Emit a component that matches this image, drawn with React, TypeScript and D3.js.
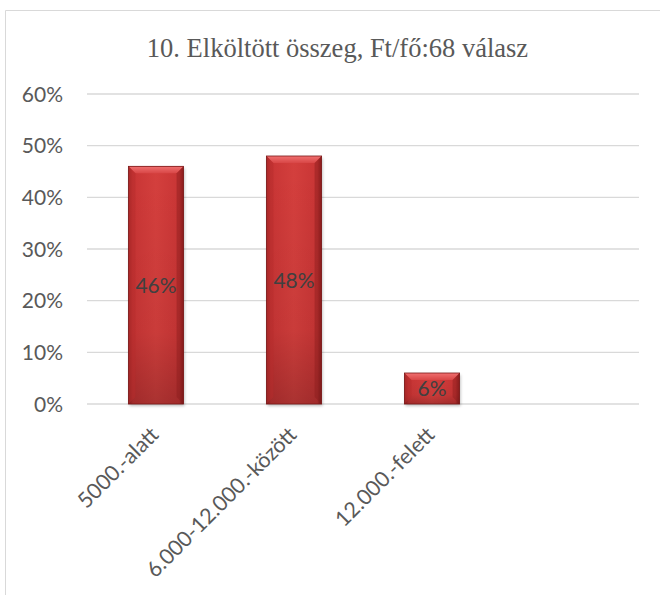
import * as d3 from "d3";

const categories = ["5000.-alatt", "6.000-12.000.-között", "12.000.-felett", ""];
const shares = [0.46, 0.48, 0.06, null];
const yTickValues = [0, 0.1, 0.2, 0.3, 0.4, 0.5, 0.6];
const title = "10. Elköltött összeg, Ft/fő:68 válasz";

const W = 660;
const H = 595;
const plot = { left: 87, right: 639, top: 94, bottom: 404 };
const sansFont = "Lato, 'Open Sans', sans-serif";
const gray = "#595959";

export default function App() {
  const x = d3
    .scaleBand<string>()
    .domain(categories.map((c, i) => `${i}`))
    .range([plot.left, plot.right])
    .paddingInner(0.6)
    .paddingOuter(0.3);
  const y = d3.scaleLinear().domain([0, 0.6]).range([plot.bottom, plot.top]);
  const fmt = d3.format(".0%");
  const bw = x.bandwidth();
  const bevel = 7;

  return (
    <svg
      width={W}
      height={H}
      style={{ position: "absolute", left: 0, top: 0, background: "#fff" }}
    >
      <defs>
        <linearGradient id="barH" x1="0" x2="1" y1="0" y2="0">
          <stop offset="0" stopColor="#9e2424" />
          <stop offset="0.08" stopColor="#c93535" />
          <stop offset="0.5" stopColor="#d43f3d" />
          <stop offset="0.92" stopColor="#c93535" />
          <stop offset="1" stopColor="#8a1c1c" />
        </linearGradient>
        <linearGradient id="barV" x1="0" x2="0" y1="0" y2="1">
          <stop offset="0" stopColor="#000" stopOpacity="0" />
          <stop offset="0.7" stopColor="#000" stopOpacity="0.05" />
          <stop offset="1" stopColor="#000" stopOpacity="0.2" />
        </linearGradient>
        <linearGradient id="bevelTop" x1="0" x2="0" y1="0" y2="1">
          <stop offset="0" stopColor="#f07070" />
          <stop offset="1" stopColor="#d84646" />
        </linearGradient>
        <filter id="shadow" x="-20%" y="-20%" width="140%" height="140%">
          <feGaussianBlur stdDeviation="1.5" />
        </filter>
      </defs>

      {/* chart frame */}
      <path d={`M5.5,${H} V10.5 H${W}`} fill="none" stroke="#d9d9d9" strokeWidth={1} />

      <text
        x={337.5}
        y={57}
        textAnchor="middle"
        fontFamily="'Liberation Serif', 'Times New Roman', serif"
        fontSize={26.5}
        fill={gray}
      >
        {title}
      </text>

      {/* grid + y ticks */}
      {yTickValues.map((t) => (
        <g key={t}>
          <line
            x1={plot.left}
            x2={plot.right}
            y1={y(t)}
            y2={y(t)}
            stroke="#d9d9d9"
            strokeWidth={1.3}
          />
          <text
            x={63}
            y={y(t)}
            dy="0.36em"
            textAnchor="end"
            fontFamily={sansFont}
            fontSize={21}
            fill={gray}
          >
            {fmt(t)}
          </text>
        </g>
      ))}

      {/* bars */}
      {shares.map((v, i) => {
        if (v == null) return null;
        const x0 = x(`${i}`)!;
        const y0 = y(v);
        const h = plot.bottom - y0;
        return (
          <g key={i}>
            <rect
              x={x0 + 1}
              y={y0 + 2}
              width={bw}
              height={h}
              fill="#000"
              opacity={0.25}
              filter="url(#shadow)"
            />
            <rect x={x0} y={y0} width={bw} height={h} fill="url(#barH)" />
            <rect x={x0} y={y0} width={bw} height={h} fill="url(#barV)" />
            <polygon
              points={`${x0},${y0} ${x0 + bw},${y0} ${x0 + bw - bevel},${y0 + bevel} ${x0 + bevel},${y0 + bevel}`}
              fill="url(#bevelTop)"
            />
            <polygon
              points={`${x0},${y0} ${x0 + bevel},${y0 + bevel} ${x0 + bevel},${y0 + h - bevel} ${x0},${y0 + h}`}
              fill="#b52c2c"
              opacity={0.5}
            />
            <polygon
              points={`${x0 + bw},${y0} ${x0 + bw - bevel},${y0 + bevel} ${x0 + bw - bevel},${y0 + h - bevel} ${x0 + bw},${y0 + h}`}
              fill="#8a1c1c"
              opacity={0.45}
            />
            <rect x={x0} y={y0} width={bw} height={h} fill="none" stroke="#7a1818" strokeWidth={0.8} />
            <text
              x={x0 + bw / 2}
              y={y0 + h / 2}
              dy="0.36em"
              textAnchor="middle"
              fontFamily={sansFont}
              fontSize={21}
              fill="#404040"
            >
              {fmt(v)}
            </text>
          </g>
        );
      })}

      {/* category labels */}
      {categories.map((c, i) =>
        c ? (
          <text
            key={i}
            transform={`translate(${x(`${i}`)! + bw / 2 + 4},${plot.bottom + 32}) rotate(-45)`}
            textAnchor="end"
            fontFamily={sansFont}
            fontSize={21.5}
            fill={gray}
          >
            {c}
          </text>
        ) : null
      )}
    </svg>
  );
}
